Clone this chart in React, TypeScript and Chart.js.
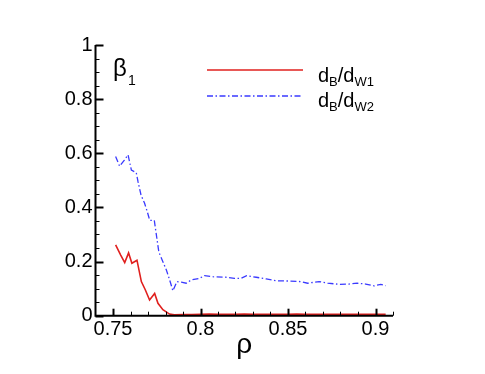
import React, { useEffect, useRef } from "react";
import { Chart, registerables } from "chart.js";

Chart.register(...registerables);

const FONT = "'Liberation Sans', Arial, Helvetica, sans-serif";

const xTicks = [0.75, 0.8, 0.85, 0.9];
const xTickLabels = ["0.75", "0.8", "0.85", "0.9"];
const yTicks = [0, 0.2, 0.4, 0.6, 0.8, 1];
const yTickLabels = ["0", "0.2", "0.4", "0.6", "0.8", "1"];

const seriesNames = ["d_B/d_W1", "d_B/d_W2"];

const rhoW1 = [
  0.7515, 0.7544, 0.7567, 0.7589, 0.7608, 0.7637, 0.7662, 0.7685, 0.7709, 0.7738,
  0.7757, 0.7785, 0.7823, 0.7851, 0.79, 0.795, 0.8, 0.805, 0.81, 0.815, 0.82, 0.825,
  0.83, 0.835, 0.84, 0.845, 0.85, 0.855, 0.86, 0.865, 0.87, 0.875, 0.88, 0.885, 0.89,
  0.895, 0.9, 0.9058,
];
const betaW1 = [
  0.262, 0.224, 0.196, 0.232, 0.194, 0.205, 0.126, 0.095, 0.058, 0.082,
  0.046, 0.022, 0.006, 0.003, 0.004, 0.004, 0.005, 0.006, 0.005, 0.005, 0.005, 0.006,
  0.005, 0.005, 0.005, 0.005, 0.005, 0.006, 0.005, 0.005, 0.005, 0.005, 0.005, 0.005, 0.005,
  0.005, 0.005, 0.005,
];

const rhoW2 = [
  0.7515, 0.7538, 0.7565, 0.7586, 0.7605, 0.7633, 0.7643, 0.766, 0.768, 0.7696,
  0.771, 0.7736, 0.7762, 0.7805, 0.7829, 0.7842, 0.7865, 0.789, 0.7918, 0.7947,
  0.7994, 0.8023, 0.807, 0.8146, 0.8194, 0.8232, 0.8264, 0.8318, 0.8375, 0.8432,
  0.8507, 0.8574, 0.8612, 0.8678, 0.8726, 0.8792, 0.8849, 0.8896, 0.8944, 0.8992,
  0.903, 0.9058,
];
const betaW2 = [
  0.588, 0.552, 0.575, 0.594, 0.538, 0.528, 0.495, 0.446, 0.416, 0.384,
  0.352, 0.352, 0.235, 0.169, 0.121, 0.092, 0.126, 0.124, 0.12, 0.132,
  0.138, 0.148, 0.144, 0.142, 0.138, 0.138, 0.148, 0.142, 0.136, 0.129,
  0.128, 0.126, 0.12, 0.126, 0.12, 0.116, 0.117, 0.12, 0.117, 0.11,
  0.116, 0.111,
];

const RED = "#e0201e";
const BLUE = "#3a3aff";

const axesPlugin = {
  id: "axesPlugin",
  afterDraw(chart: any) {
    const ctx = chart.ctx;
    const xs = chart.scales.x;
    const ys = chart.scales.y;
    const area = chart.chartArea;
    ctx.save();
    ctx.strokeStyle = "#000";
    // axis lines
    ctx.lineWidth = 2;
    ctx.beginPath();
    ctx.moveTo(area.left, area.top);
    ctx.lineTo(area.left, area.bottom);
    ctx.lineTo(area.right, area.bottom);
    ctx.stroke();
    // x ticks (inward)
    for (let i = 75; i <= 91; i++) {
      const v = i / 100;
      const px = Math.round(xs.getPixelForValue(v)) + 0.5;
      const major = i % 5 === 0;
      ctx.beginPath();
      ctx.lineWidth = major ? 2 : 1;
      ctx.moveTo(px, area.bottom);
      ctx.lineTo(px, area.bottom - (major ? 7 : 4));
      ctx.stroke();
    }
    for (let i = 0; i <= 20; i++) {
      const v = i / 20;
      const py = Math.round(ys.getPixelForValue(v)) + 0.5;
      const major = i % 4 === 0;
      ctx.beginPath();
      ctx.lineWidth = major ? 2 : 1;
      ctx.moveTo(area.left, py);
      ctx.lineTo(area.left + (major ? 8 : 4), py);
      ctx.stroke();
    }
    // beta_1 label
    ctx.fillStyle = "#000";
    ctx.textBaseline = "alphabetic";
    ctx.textAlign = "left";
    ctx.font = `24px ${FONT}`;
    ctx.fillText("β", 113, 75.5);
    ctx.font = `14px ${FONT}`;
    ctx.fillText("1", 128, 85);
    // legend
    const drawLabel = (x: number, y: number, sub1: string, sub2: string) => {
      ctx.font = `20px ${FONT}`;
      ctx.fillText("d", x, y);
      let cx = x + ctx.measureText("d").width;
      ctx.font = `13px ${FONT}`;
      ctx.fillText(sub1, cx, y + 4);
      cx += ctx.measureText(sub1).width;
      ctx.font = `20px ${FONT}`;
      ctx.fillText("/d", cx, y);
      cx += ctx.measureText("/d").width;
      ctx.font = `13px ${FONT}`;
      ctx.fillText(sub2, cx, y + 4);
    };
    ctx.lineWidth = 1.6;
    ctx.strokeStyle = RED;
    ctx.setLineDash([]);
    ctx.beginPath();
    ctx.moveTo(207, 70);
    ctx.lineTo(303, 70);
    ctx.stroke();
    ctx.strokeStyle = BLUE;
    ctx.lineWidth = 1.3;
    ctx.setLineDash([6, 2.5, 1.5, 2.5]);
    ctx.beginPath();
    ctx.moveTo(207, 96);
    ctx.lineTo(303, 96);
    ctx.stroke();
    ctx.setLineDash([]);
    drawLabel(318, 82, "B", "W1");
    drawLabel(318, 107, "B", "W2");
    ctx.restore();
  },
};

export default function App() {
  const ref = useRef<HTMLCanvasElement | null>(null);
  useEffect(() => {
    if (!ref.current) return;
    const chart = new Chart(ref.current, {
      type: "line",
      data: {
        datasets: [
          {
            label: seriesNames[0],
            data: rhoW1.map((x, i) => ({ x, y: betaW1[i] })),
            borderColor: RED,
            borderWidth: 1.6,
            pointRadius: 0,
            tension: 0,
            fill: false,
          },
          {
            label: seriesNames[1],
            data: rhoW2.map((x, i) => ({ x, y: betaW2[i] })),
            borderColor: BLUE,
            borderWidth: 1.3,
            borderDash: [6, 2.5, 1.5, 2.5],
            pointRadius: 0,
            tension: 0,
            fill: false,
          },
        ],
      },
      options: {
        responsive: false,
        animation: false,
        layout: { padding: { top: 45, right: 92, left: 0, bottom: 0 } },
        plugins: { legend: { display: false }, tooltip: { enabled: false } },
        scales: {
          x: {
            type: "linear",
            min: 0.74,
            max: 0.91,
            grid: { display: false, drawTicks: false },
            border: { display: false },
            afterBuildTicks: (s: any) => {
              s.ticks = xTicks.map((v) => ({ value: v }));
            },
            afterFit: (s: any) => {
              s.height = 58.3;
            },
            ticks: {
              color: "#000",
              font: { family: FONT, size: 20 },
              padding: 2,
              maxRotation: 0,
              callback: (v: any) => {
                const i = xTicks.findIndex((t) => Math.abs(t - Number(v)) < 1e-6);
                return i >= 0 ? xTickLabels[i] : "";
              },
            },
            title: {
              display: true,
              text: "ρ",
              color: "#000",
              font: { family: FONT, size: 28 },
              padding: { top: 0, bottom: 12 },
            },
          },
          y: {
            type: "linear",
            min: 0,
            max: 1,
            grid: { display: false, drawTicks: false },
            border: { display: false },
            afterBuildTicks: (s: any) => {
              s.ticks = yTicks.map((v) => ({ value: v }));
            },
            afterFit: (s: any) => {
              s.width = 95.5;
            },
            ticks: {
              color: "#000",
              font: { family: FONT, size: 20 },
              padding: 3,
              callback: (v: any) => {
                const i = yTicks.findIndex((t) => Math.abs(t - Number(v)) < 1e-6);
                return i >= 0 ? yTickLabels[i] : "";
              },
            },
          },
        },
      },
      plugins: [axesPlugin],
    } as any);
    return () => chart.destroy();
  }, []);
  return (
    <div style={{ position: "fixed", left: 0, top: 0, width: 485, height: 374, background: "#fff" }}>
      <canvas ref={ref} width={485} height={374} style={{ width: 485, height: 374 }} />
    </div>
  );
}
